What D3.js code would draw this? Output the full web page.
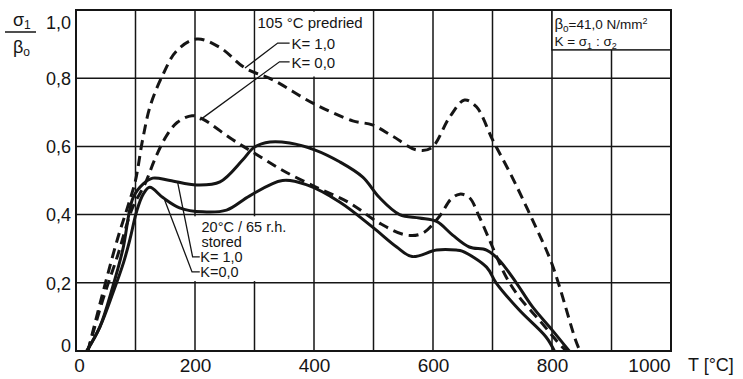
<!DOCTYPE html>
<html>
<head>
<meta charset="utf-8">
<script src="https://cdn.jsdelivr.net/npm/d3@7"></script>
<style>
  body { margin: 0; background: #fff; }
  svg { display: block; font-family: "Liberation Sans", Arial, sans-serif; }
</style>
</head>
<body>
<svg id="chart" width="743" height="379"></svg>
<script>
// sigma1 / beta0 against temperature T [°C]
const predriedK1 = [[20,0],[45,0.17],[70,0.33],[90,0.44],[100,0.50],[112,0.62],[125,0.72],[146,0.81],[169,0.88],[203,0.915],[242,0.89],[284,0.83],[331,0.795],[398,0.727],[465,0.675],[498,0.663],[532,0.63],[572,0.59],[597,0.595],[628,0.686],[653,0.736],[673,0.716],[700,0.62],[733,0.51],[767,0.385],[800,0.255],[840,0.03],[847,0]];
const predriedK0 = [[20,0],[45,0.15],[70,0.28],[95,0.42],[116,0.49],[132,0.56],[150,0.625],[170,0.67],[195,0.69],[213,0.68],[263,0.62],[300,0.58],[347,0.53],[404,0.48],[460,0.434],[510,0.375],[555,0.34],[582,0.345],[611,0.395],[630,0.445],[645,0.46],[661,0.45],[678,0.393],[700,0.305],[723,0.217],[745,0.158],[779,0.09],[817,0.012],[825,0]];
const storedK1 = [[18,0],[40,0.07],[62,0.19],[79,0.30],[96,0.45],[113,0.49],[129,0.507],[158,0.50],[203,0.487],[242,0.496],[280,0.56],[300,0.598],[326,0.613],[359,0.61],[401,0.59],[443,0.555],[482,0.51],[510,0.45],[544,0.40],[577,0.39],[606,0.38],[633,0.34],[661,0.305],[690,0.296],[711,0.267],[740,0.20],[767,0.13],[800,0.062],[829,0]];
const storedK0 = [[18,0],[40,0.07],[62,0.17],[80,0.26],[91,0.33],[102,0.41],[113,0.46],[124,0.48],[146,0.45],[174,0.42],[213,0.408],[253,0.413],[292,0.455],[347,0.50],[388,0.487],[443,0.437],[498,0.364],[539,0.305],[565,0.277],[606,0.296],[639,0.296],[649,0.293],[690,0.246],[706,0.20],[745,0.12],[790,0.041],[804,0]];

const xTicks = [0, 200, 400, 600, 800, 1000];
const yTicks = [0, 0.2, 0.4, 0.6, 0.8, 1.0];
const xGrid = [100, 200, 300, 400, 500, 600, 700, 800, 900];
const yGrid = [0.2, 0.4, 0.6, 0.8];

const svg = d3.select("#chart");
const ink = "#151515";

const x = d3.scaleLinear().domain([0, 1000]).range([76, 671]);
const y = d3.scaleLinear().domain([0, 1]).range([351, 10]);

// grid
svg.append("g").selectAll("line").data(xGrid).join("line")
  .attr("x1", d => x(d)).attr("x2", d => x(d))
  .attr("y1", y(0)).attr("y2", y(1))
  .attr("stroke", ink).attr("stroke-width", 1.5);
svg.append("g").selectAll("line").data(yGrid).join("line")
  .attr("x1", x(0)).attr("x2", x(1000))
  .attr("y1", d => y(d)).attr("y2", d => y(d))
  .attr("stroke", ink).attr("stroke-width", 1.5);

// white patches behind the labels
svg.append("rect")
  .attr("x", x(302)).attr("y", y(0.995))
  .attr("width", x(498) - x(302)).attr("height", y(0.805) - y(0.995))
  .attr("fill", "#fff");
svg.append("rect")
  .attr("x", x(197)).attr("y", y(0.395))
  .attr("width", x(393) - x(197)).attr("height", y(0.205) - y(0.395))
  .attr("fill", "#fff");
svg.append("rect")
  .attr("x", x(800)).attr("y", y(1))
  .attr("width", x(1000) - x(800)).attr("height", y(0.883) - y(1))
  .attr("fill", "#fff").attr("stroke", ink).attr("stroke-width", 1.5);

// frame
svg.append("rect")
  .attr("x", x(0)).attr("y", y(1))
  .attr("width", x(1000) - x(0)).attr("height", y(0) - y(1))
  .attr("fill", "none").attr("stroke", ink).attr("stroke-width", 2);

// axes (labels only)
const xAxis = svg.append("g").attr("transform", `translate(0,${y(0)})`)
  .call(d3.axisBottom(x).tickValues(xTicks).tickSize(0).tickPadding(8).tickFormat(d3.format("d")));
xAxis.select(".domain").remove();
xAxis.selectAll("text").attr("font-size", 19).attr("fill", ink)
  .attr("font-family", "Liberation Sans, Arial, sans-serif")
  .attr("dx", d => d === 1000 ? -22 : (d === 0 ? 3 : 0));

const yAxis = svg.append("g").attr("transform", `translate(${x(0)},0)`)
  .call(d3.axisLeft(y).tickValues(yTicks).tickSize(0).tickPadding(5)
    .tickFormat(d => d === 0 ? "0" : d3.format(".1f")(d).replace(".", ",")));
yAxis.select(".domain").remove();
yAxis.selectAll("text").attr("font-size", 18).attr("fill", ink)
  .attr("font-family", "Liberation Sans, Arial, sans-serif")
  .attr("dy", d => d === 1 ? "1.05em" : (d === 0 ? "0.0em" : "0.35em"));

svg.append("text").attr("x", 688).attr("y", 371)
  .attr("font-size", 18).attr("fill", ink).text("T [°C]");

// y label as fraction
const yl = svg.append("g").attr("fill", ink);
yl.append("text").attr("x", 13).attr("y", 26).attr("font-size", 18)
  .text("σ").append("tspan").attr("font-size", 12).attr("dy", 3).text("1");
yl.append("line").attr("x1", 5).attr("x2", 36).attr("y1", 32).attr("y2", 32)
  .attr("stroke", ink).attr("stroke-width", 1.5);
yl.append("text").attr("x", 13).attr("y", 53).attr("font-size", 18)
  .text("β").append("tspan").attr("font-size", 12).attr("dy", 3).text("o");

// curves
const line = d3.line().x(d => x(d[0])).y(d => y(d[1])).curve(d3.curveCatmullRom.alpha(0.5));
const series = [
  { data: predriedK1, dash: "10,6" },
  { data: predriedK0, dash: "10,6" },
  { data: storedK1, dash: null },
  { data: storedK0, dash: null }
];
svg.append("g").selectAll("path").data(series).join("path")
  .attr("d", d => line(d.data))
  .attr("fill", "none").attr("stroke", ink).attr("stroke-width", 3)
  .attr("stroke-dasharray", d => d.dash);

// leader lines
const leaders = [
  [[284, 0.83], [339, 0.903], [359, 0.903]],
  [[208, 0.677], [342, 0.848], [359, 0.848]],
  [[171, 0.493], [196, 0.276], [208, 0.276]],
  [[149, 0.443], [195, 0.232], [208, 0.232]]
];
const straight = d3.line().x(d => x(d[0])).y(d => y(d[1]));
svg.append("g").selectAll("path").data(leaders).join("path")
  .attr("d", straight).attr("fill", "none").attr("stroke", ink).attr("stroke-width", 1.3);

// annotation texts
const labels = [
  { t: 305, v: 0.962, s: 15, txt: "105 °C predried" },
  { t: 362, v: 0.90, s: 15, txt: "K= 1,0" },
  { t: 362, v: 0.845, s: 15, txt: "K= 0,0" },
  { t: 211, v: 0.364, s: 14.5, txt: "20°C / 65 r.h." },
  { t: 211, v: 0.319, s: 14.5, txt: "stored" },
  { t: 209, v: 0.276, s: 14.5, txt: "K= 1,0" },
  { t: 209, v: 0.232, s: 14.5, txt: "K=0,0" }
];
svg.append("g").selectAll("text").data(labels).join("text")
  .attr("x", d => x(d.t)).attr("y", d => y(d.v)).attr("dy", "0.35em")
  .attr("font-size", d => d.s).attr("fill", ink).text(d => d.txt);

// top right info
const info = svg.append("g").attr("fill", ink).attr("font-size", 13.5);
const i1 = info.append("text").attr("x", x(804)).attr("y", 29);
i1.append("tspan").attr("font-size", 15).text("β");
i1.append("tspan").attr("font-size", 10).attr("dy", 3).text("o");
i1.append("tspan").attr("dy", -3).text("=41,0 N/mm");
i1.append("tspan").attr("font-size", 9).attr("dy", -5).text("2");
const i2 = info.append("text").attr("x", x(804)).attr("y", 46);
i2.append("tspan").text("K = σ");
i2.append("tspan").attr("font-size", 9).attr("dy", 3).text("1");
i2.append("tspan").attr("dy", -3).text(" : σ");
i2.append("tspan").attr("font-size", 9).attr("dy", 3).text("2");
</script>
</body>
</html>
